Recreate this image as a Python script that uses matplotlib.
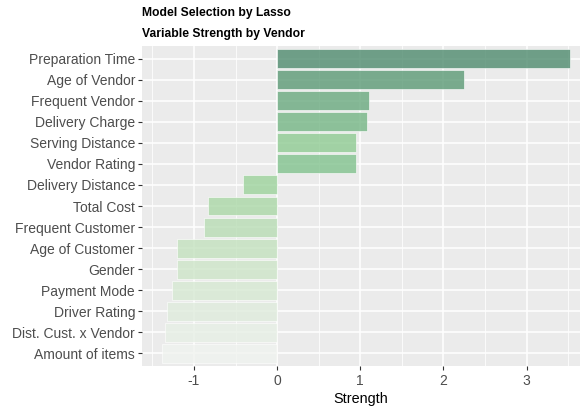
import matplotlib
matplotlib.use("Agg")
import matplotlib.pyplot as plt
import numpy as np
from matplotlib.colors import LinearSegmentedColormap, to_rgb

variables = [
    "Preparation Time", "Age of Vendor", "Frequent Vendor", "Delivery Charge",
    "Serving Distance", "Vendor Rating", "Delivery Distance", "Total Cost",
    "Frequent Customer", "Age of Customer", "Gender", "Payment Mode",
    "Driver Rating", "Dist. Cust. x Vendor", "Amount of items",
]
strength = [3.52, 2.25, 1.10, 1.08, 0.95, 0.95, -0.41, -0.83,
            -0.88, -1.21, -1.21, -1.26, -1.33, -1.35, -1.38]


def main():
    plt.rcParams["font.family"] = ["Liberation Sans", "DejaVu Sans"]
    plt.rcParams["axes.unicode_minus"] = False
    fig = plt.figure(figsize=(5.81, 4.11), dpi=100)
    ax = fig.add_axes([0.2444, 0.1095, 0.7536, 0.7785])

    bg = np.array(to_rgb("#EBEBEB"))
    ax.set_facecolor(bg)
    alpha = 0.8
    # observed colours on the grey panel, light -> dark
    cmap = LinearSegmentedColormap.from_list(
        "grn", [(0.0, "#eff1ee"), (0.35, "#cde4c9"), (0.6, "#a9d5a8"),
                (0.68, "#9bcfa2"), (0.85, "#84b895"), (1.0, "#6e9e87")])

    n = len(variables)
    ypos = np.arange(n)[::-1]
    order = np.argsort(np.argsort(strength))
    for y, val, r in zip(ypos, strength, order):
        seen = np.array(cmap(r / (n - 1))[:3])
        fill = np.clip((seen - (1 - alpha) * bg) / alpha, 0, 1)
        ax.barh(y, val, height=0.9, color=fill, alpha=alpha,
                edgecolor=(1, 1, 1, 0.2), linewidth=0.5, zorder=2)

    ax.set_xlim(-1.625, 3.64)
    ax.set_ylim(-0.6, n - 0.4)
    ax.set_xticks([-1, 0, 1, 2, 3])
    ax.set_xticks([-1.5, -0.5, 0.5, 1.5, 2.5, 3.5], minor=True)
    ax.set_yticks(ypos)
    ax.set_yticklabels(variables)
    ax.grid(which="major", color="white", linewidth=1.1, zorder=1)
    ax.grid(which="minor", axis="x", color="white", linewidth=0.55, zorder=1)
    ax.set_axisbelow(True)
    for s in ax.spines.values():
        s.set_visible(False)
    ax.tick_params(which="major", length=3, width=0.8, color="#333333",
                   labelsize=10, labelcolor="#4D4D4D", pad=2)
    ax.tick_params(axis="x", pad=3)
    ax.tick_params(which="minor", length=0)
    ax.set_xlabel("Strength", fontsize=10.4, color="black", labelpad=3)

    fig.text(0.2444, 0.968, "Model Selection by Lasso", fontsize=8.7,
             fontweight="bold", va="center", ha="left")
    fig.text(0.2444, 0.918, "Variable Strength by Vendor", fontsize=8.7,
             fontweight="bold", va="center", ha="left")

    fig.savefig("out.png", dpi=100)


if __name__ == "__main__":
    main()
